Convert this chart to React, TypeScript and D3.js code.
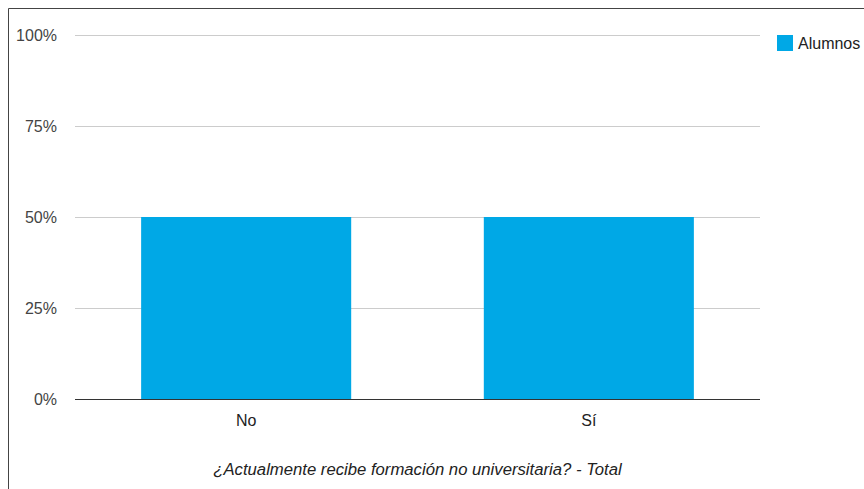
import React from "react";
import * as d3 from "d3";

const categories = ["No", "Sí"];
const values = [0.5, 0.5];
const yTicks = [0, 0.25, 0.5, 0.75, 1];
const seriesName = "Alumnos";
const title = "¿Actualmente recibe formación no universitaria? - Total";

const W = 856;
const H = 481;
const OX = -8; // page offset
const plotLeft = 75 + OX;
const plotRight = 760 + OX;
const plotTop = 35 + OX;
const plotBottom = 399 + OX;
const barColor = "#00A8E6";
const font = "'Liberation Sans', Arial, sans-serif";
const fs = 16;

export default function App() {
  const x = d3.scaleBand<string>().domain(categories).range([plotLeft, plotRight]).paddingInner(0.387).paddingOuter(0.193);
  const y = d3.scaleLinear().domain([0, 1]).range([plotBottom, plotTop]);
  const fmt = d3.format(".0%");
  return (
    <div style={{ width: W, height: H }}>
      <svg width={W} height={H} style={{ display: "block", position: "fixed", left: 8, top: 8 }} fontFamily={font}>
        <rect x={0} y={0} width={W} height={H} fill="#fff" />
        <line x1={0.5} y1={0.5} x2={W} y2={0.5} stroke="#444" strokeWidth={1} />
        <line x1={0.5} y1={0.5} x2={0.5} y2={H} stroke="#444" strokeWidth={1} />
        {yTicks.map((t) => (
          <g key={t}>
            {t > 0 && (
              <line x1={plotLeft} x2={plotRight} y1={Math.round(y(t)) + 0.5} y2={Math.round(y(t)) + 0.5} stroke="#ccc" />
            )}
            <text x={57 + OX} y={y(t)} dy="0.35em" textAnchor="end" fontSize={fs} fill="#444">
              {fmt(t)}
            </text>
          </g>
        ))}
        {categories.map((c, i) => (
          <rect key={c} x={x(c)} y={y(values[i])} width={x.bandwidth()} height={y(0) - y(values[i])} fill={barColor} />
        ))}
        <line x1={plotLeft} x2={plotRight} y1={Math.round(y(0)) + 0.5} y2={Math.round(y(0)) + 0.5} stroke="#333" />
        {categories.map((c) => (
          <text key={c} x={(x(c) as number) + x.bandwidth() / 2} y={420 + OX} dy="0.35em" textAnchor="middle" fontSize={fs} fill="#222">
            {c}
          </text>
        ))}
        <text x={(plotLeft + plotRight) / 2} y={469 + OX} dy="0.35em" textAnchor="middle" fontSize={16.7} fontStyle="italic" fill="#222">
          {title}
        </text>
        <rect x={777 + OX} y={35 + OX} width={16} height={16} fill={barColor} />
        <text x={798 + OX} y={43 + OX} dy="0.35em" fontSize={fs} fill="#222">
          {seriesName}
        </text>
      </svg>
    </div>
  );
}
